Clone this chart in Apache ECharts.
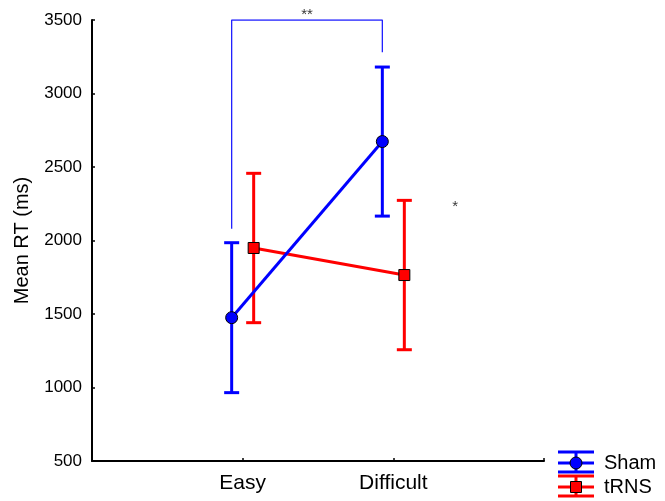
<!DOCTYPE html>
<html>
<head>
<meta charset="utf-8">
<script src="https://cdn.jsdelivr.net/npm/echarts@6/dist/echarts.min.js"></script>
<style>html,body{margin:0;padding:0;background:#fff;}#c{width:665px;height:501px;}</style>
</head>
<body>
<div id="c"></div>
<script>
var categories = ['Easy', 'Difficult'];
var seriesNames = ['Sham', 'tRNS'];
var shamMean = [1475, 2673];
var shamErr = [510, 507];
var trnsMean = [1949, 1765];
var trnsErr = [508, 508];
var yTicks = [500, 1000, 1500, 2000, 2500, 3000, 3500];
var bracketLow = [2080, 3280];
var bracketTop = 3500;
var starLabels = ['**', '*'];
var singleStarPos = [2.41, 2228];

var FONT = 'Liberation Sans, Arial, sans-serif';
var OFF = 0.073;
var BLUE = '#0000ff', RED = '#ff0000';

function pts(means, off) {
  return means.map(function (m, i) { return [i + 1 + off, m]; });
}
function errData(means, errs, off) {
  return means.map(function (m, i) { return [i + 1 + off, m - errs[i], m + errs[i]]; });
}
function errSeries(means, errs, off, color) {
  return {
    type: 'custom',
    data: errData(means, errs, off),
    z: 1,
    renderItem: function (params, api) {
      var x = api.value(0);
      var lo = api.coord([x, api.value(1)]);
      var hi = api.coord([x, api.value(2)]);
      var w = 7.5;
      var st = { stroke: color, lineWidth: 3 };
      return {
        type: 'group',
        children: [
          { type: 'line', shape: { x1: lo[0], y1: lo[1], x2: hi[0], y2: hi[1] }, style: st },
          { type: 'line', shape: { x1: lo[0] - w, y1: lo[1], x2: lo[0] + w, y2: lo[1] }, style: st },
          { type: 'line', shape: { x1: hi[0] - w, y1: hi[1], x2: hi[0] + w, y2: hi[1] }, style: st }
        ]
      };
    }
  };
}

var chart = echarts.init(document.getElementById('c'));

var legendIcons = [];
function legendItem(y, color, shape, name) {
  var cx = 576, x1 = 558, x2 = 594;
  var st = { stroke: color, lineWidth: 3 };
  var items = [
    { type: 'line', shape: { x1: x1, y1: y - 11, x2: x2, y2: y - 11 }, style: st },
    { type: 'line', shape: { x1: x1, y1: y, x2: x2, y2: y }, style: st },
    { type: 'line', shape: { x1: x1, y1: y + 9, x2: x2, y2: y + 9 }, style: st },
    { type: 'line', shape: { x1: cx, y1: y - 11, x2: cx, y2: y + 9 }, style: st }
  ];
  if (shape === 'circle') {
    items.push({ type: 'circle', shape: { cx: cx, cy: y, r: 6 }, style: { fill: color, stroke: '#000', lineWidth: 1 } });
  } else {
    items.push({ type: 'rect', shape: { x: cx - 5.5, y: y - 5.5, width: 11, height: 11 }, style: { fill: color, stroke: '#000', lineWidth: 1 } });
  }
  items.push({ type: 'text', x: 604, y: y, style: { text: name, font: '20px ' + FONT, fill: '#000', textVerticalAlign: 'middle' } });
  return items;
}
legendIcons = legendIcons.concat(legendItem(463, BLUE, 'circle', seriesNames[0]));
legendIcons = legendIcons.concat(legendItem(487, RED, 'rect', seriesNames[1]));

chart.setOption({
  animation: false,
  grid: { left: 92, top: 20, right: 121, bottom: 40 },
  xAxis: {
    type: 'value', min: 0, max: categories.length + 1, interval: 1,
    axisLine: { lineStyle: { color: '#000', width: 2 } },
    axisTick: { inside: true, length: 3, lineStyle: { color: '#000', width: 1.5 } },
    splitLine: { show: false },
    axisLabel: {
      color: '#000', fontSize: 21, fontFamily: FONT, margin: 12,
      formatter: function (v) { return categories[v - 1] || ''; }
    }
  },
  yAxis: {
    type: 'value', min: yTicks[0], max: yTicks[yTicks.length - 1], interval: yTicks[1] - yTicks[0],
    axisLine: { show: true, lineStyle: { color: '#000', width: 2 } },
    axisTick: { show: true, inside: true, length: 3, lineStyle: { color: '#000', width: 1.5 } },
    splitLine: { show: false },
    axisLabel: { color: '#000', fontSize: 17, fontFamily: FONT, margin: 10,
      formatter: function (v) { return String(v); } },
    name: 'Mean RT (ms)', nameLocation: 'middle', nameGap: 60, nameRotate: 90,
    nameTextStyle: { color: '#000', fontSize: 20, fontFamily: FONT }
  },
  series: [
    errSeries(trnsMean, trnsErr, OFF, RED),
    errSeries(shamMean, shamErr, -OFF, BLUE),
    {
      name: seriesNames[1], type: 'line', data: pts(trnsMean, OFF), z: 3,
      symbol: 'rect', symbolSize: 11,
      lineStyle: { color: RED, width: 3 },
      itemStyle: { color: RED, borderColor: '#000', borderWidth: 1 }
    },
    {
      name: seriesNames[0], type: 'line', data: pts(shamMean, -OFF), z: 4,
      symbol: 'circle', symbolSize: 12,
      lineStyle: { color: BLUE, width: 3 },
      itemStyle: { color: BLUE, borderColor: '#000', borderWidth: 1 }
    },
    {
      type: 'line', z: 2, symbol: 'none',
      lineStyle: { color: '#2222ff', width: 1.3 },
      data: [[1 - OFF, bracketLow[0]], [1 - OFF, bracketTop], [2 - OFF, bracketTop], [2 - OFF, bracketLow[1]]]
    },
    {
      type: 'scatter', symbolSize: 0, z: 5,
      data: [
        { value: [1.5 - OFF, bracketTop], label: { show: true, formatter: starLabels[0], position: 'top', distance: -2 } },
        { value: singleStarPos, label: { show: true, formatter: starLabels[1], position: 'inside' } }
      ],
      label: { color: '#000', fontSize: 15, fontFamily: FONT }
    }
  ],
  graphic: legendIcons
});
</script>
</body>
</html>
